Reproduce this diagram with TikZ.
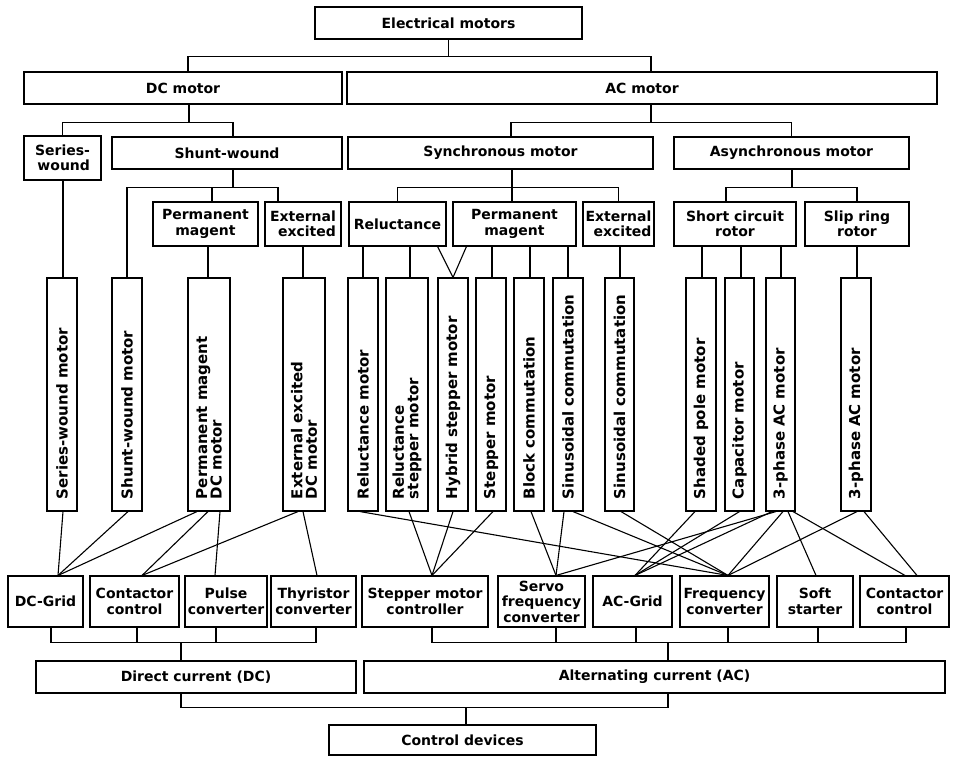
\documentclass[tikz,border=0pt]{standalone}
\usepackage{fontspec}
\setmainfont{DejaVu Sans}
\usetikzlibrary{calc}
\tikzset{
 hbox/.style={draw, line width=1.1pt, inner sep=0pt, align=center, font=\fontsize{14}{15.5}\selectfont\bfseries},
 vbox/.style={draw, line width=1.1pt, rotate=90, minimum width=233, inner xsep=12pt, inner ysep=0pt, text width=209pt, align=left, font=\fontsize{15}{14.5}\selectfont\bfseries},
 conn/.style={line width=1.1pt}
}
\newcommand\hbx[7][]{\node[hbox,#1, minimum width={#5-#3}, minimum height={#6-#4}] (#2) at ({(#3+#5)/2},{(#4+#6)/2}) {#7};}
\newcommand\vbx[4]{\node[vbox, minimum height={#3-#2}] (#1) at ({(#2+#3)/2},394.5) {#4};}
\newcommand\cx[4]{\draw[conn] ($(#1.west)+(#2,0)$) -- ($(#3.north)+(#4,0)$);}
\newcommand\dr[3]{\draw[conn] ($(#1.east)+(#2,0)$) -- ($(#1.east |- #3.south)+(#2,0)$);}
\begin{document}
\begin{tikzpicture}[x=1pt,y=-1pt]
\useasboundingbox (0,0) rectangle (953,756);
% level 0-2
\hbx{em}{315}{7}{582}{39}{Electrical motors}
\hbx{dc}{24}{72}{342}{104}{DC motor}
\hbx{ac}{347}{72}{937}{104}{AC motor}
\hbx[align=right]{sw}{24}{136}{101}{180}{Series-\\wound}
\hbx{sh}{112}{137}{342}{169}{Shunt-wound}
\hbx{sy}{348}{137}{653}{169}{Synchronous motor}
\hbx{as}{674}{137}{909}{169}{Asynchronous motor}
% level 3
\hbx{pmd}{153}{202}{258}{246}{Permanent\\magent}
\hbx[align=right]{eed}{265}{202}{341}{246}{External\\excited}
\hbx{rel}{349}{202}{446}{246}{Reluctance}
\hbx{pms}{453}{202}{576}{246}{Permanent\\magent}
\hbx[align=right]{ees}{583}{202}{654}{246}{External\\excited}
\hbx{scr}{674}{202}{796}{246}{Short circuit\\rotor}
\hbx{srr}{805}{202}{909}{246}{Slip ring\\rotor}
% level 4
\vbx{m1}{47}{77}{Series-wound motor}
\vbx{m2}{112}{142}{Shunt-wound motor}
\vbx{m3}{188}{230}{Permanent magent\\DC motor}
\vbx{m4}{283}{325}{External excited\\DC motor}
\vbx{m5}{348}{378}{Reluctance motor}
\vbx{m6}{386}{428}{Reluctance\\stepper motor}
\vbx{m7}{438}{468}{Hybrid stepper motor}
\vbx{m8}{476}{506}{Stepper motor}
\vbx{m9}{514}{544}{Block commutation}
\vbx{m10}{553}{583}{Sinusoidal commutation}
\vbx{m11}{605}{634}{Sinusoidal commutation}
\vbx{m12}{686}{716}{Shaded pole motor}
\vbx{m13}{725}{754}{Capacitor motor}
\vbx{m14}{766}{795}{3-phase AC motor}
\vbx{m15}{841}{871}{3-phase AC motor}
% level 5
\hbx{c1}{8}{576}{83}{627}{DC-Grid}
\hbx{c2}{90}{576}{179}{627}{Contactor\\control}
\hbx{c3}{185}{576}{267}{627}{Pulse\\converter}
\hbx{c4}{271}{576}{356}{627}{Thyristor\\converter}
\hbx{c5}{362}{576}{488}{627}{Stepper motor\\controller}
\hbx{c6}{498}{576}{585}{627}{Servo\\frequency\\converter}
\hbx{c7}{593}{576}{672}{627}{AC-Grid}
\hbx{c8}{680}{576}{769}{627}{Frequency\\converter}
\hbx{c9}{777}{576}{853}{627}{Soft\\starter}
\hbx{c10}{860}{576}{949}{627}{Contactor\\control}
% level 6-7
\hbx{dcc}{36}{661}{356}{693}{Direct current (DC)}
\hbx{acc}{364}{661}{945}{693}{Alternating current (AC)}
\hbx{cd}{329}{725}{596}{755}{Control devices}

% top tree
\draw[conn] (em.south) -- ++(0,17) coordinate (j0);
\draw[conn] ($(dc.north)+(5,0)$) |- (j0) -| ($(ac.north)+(9,0)$);
\coordinate (j1) at ($(dc.south)+(6,18)$);
\draw[conn] ($(dc.south)+(6,0)$) -- (j1);
\draw[conn] (sw.north) |- (j1) -| ($(sh.north)+(6,0)$);
\coordinate (j2) at ($(ac.south)+(9,18)$);
\draw[conn] ($(ac.south)+(9,0)$) -- (j2);
\draw[conn] ($(sy.north)+(10.5,0)$) |- (j2) -| (as.north);
\coordinate (j3) at ($(sh.south)+(6,18)$);
\draw[conn] ($(sh.south)+(6,0)$) -- (j3);
\draw[conn] (m2.east) |- (j3) -| ($(eed.north)+(-25,0)$);
\draw[conn] ($(pmd.north)+(6.5,0)$) |- (j3);
\coordinate (j4) at ($(sy.south)+(11.5,18)$);
\draw[conn] ($(sy.south)+(11.5,0)$) -- ($(pms.north)+(-2.5,0)$);
\draw[conn] (rel.north) |- (j4) -| (ees.north);
\coordinate (j5) at ($(as.south)+(0.5,18)$);
\draw[conn] ($(as.south)+(0.5,0)$) -- (j5);
\draw[conn] ($(scr.north)+(-9,0)$) |- (j5) -| (srr.north);
% drops to vertical boxes
\dr{m1}{1}{sw}
\dr{m3}{-1}{pmd}
\dr{m4}{-1}{eed}
\dr{m5}{0}{rel}
\dr{m6}{3}{rel}
\draw[conn] ($(rel.south east)+(-9,0)$) -- (m7.east) -- ($(pms.south west)+(14,0)$);
\dr{m8}{1}{pms}
\dr{m9}{1}{pms}
\dr{m10}{0}{pms}
\dr{m11}{0.5}{ees}
\dr{m12}{1}{scr}
\dr{m13}{1.5}{scr}
\dr{m14}{0.5}{scr}
\dr{m15}{1}{srr}
% motor -> control devices
\cx{m1}{1}{c1}{12.5}
\cx{m2}{1}{c1}{12.5}
\cx{m3}{-12}{c1}{12.5}
\cx{m3}{-1}{c2}{7.5}
\cx{m3}{11}{c3}{-11}
\cx{m4}{-6}{c2}{7.5}
\cx{m4}{-1}{c4}{3.5}
\cx{m5}{-3}{c8}{3.5}
\cx{m6}{2}{c5}{7}
\cx{m7}{0}{c5}{7}
\cx{m8}{2}{c5}{7}
\cx{m9}{2}{c6}{14.5}
\cx{m10}{-4}{c6}{14.5}
\cx{m10}{5}{c8}{3.5}
\cx{m11}{1.5}{c8}{3.5}
\cx{m12}{-6}{c7}{2.5}
\cx{m13}{0}{c7}{2.5}
\cx{m14}{-8.5}{c7}{2.5}
\cx{m14}{-4.5}{c6}{14.5}
\cx{m14}{2.5}{c8}{3.5}
\cx{m14}{7.5}{c9}{1}
\cx{m14}{12.5}{c10}{0.5}
\cx{m15}{1}{c8}{3.5}
\cx{m15}{8}{c10}{12.5}
% bottom tree
\coordinate (jd) at ($(dcc.north)+(-15,-18)$);
\draw[conn] (jd) -- ($(dcc.north)+(-15,0)$);
\draw[conn] ($(c1.south)+(5.5,0)$) |- (jd);
\draw[conn] ($(c2.south)+(2.5,0)$) |- (jd);
\draw[conn] ($(c3.south)+(-10,0)$) |- (jd);
\draw[conn] ($(c4.south)+(2.5,0)$) |- (jd);
\coordinate (ja) at ($(acc.north)+(13.5,-18)$);
\draw[conn] (ja) -- ($(acc.north)+(13.5,0)$);
\draw[conn] ($(c5.south)+(7,0)$) |- (ja);
\draw[conn] ($(c6.south)+(14.5,0)$) |- (ja);
\draw[conn] ($(c7.south)+(3.5,0)$) |- (ja);
\draw[conn] ($(c8.south)+(3.5,0)$) |- (ja);
\draw[conn] ($(c9.south)+(3,0)$) |- (ja);
\draw[conn] ($(c10.south)+(1.5,0)$) |- (ja);
\coordinate (jc) at ($(cd.north)+(3.5,-17)$);
\draw[conn] (jc) -- ($(cd.north)+(3.5,0)$);
\draw[conn] ($(dcc.south)+(-15,0)$) |- (jc);
\draw[conn] ($(acc.south)+(13.5,0)$) |- (jc);
\end{tikzpicture}
\end{document}
